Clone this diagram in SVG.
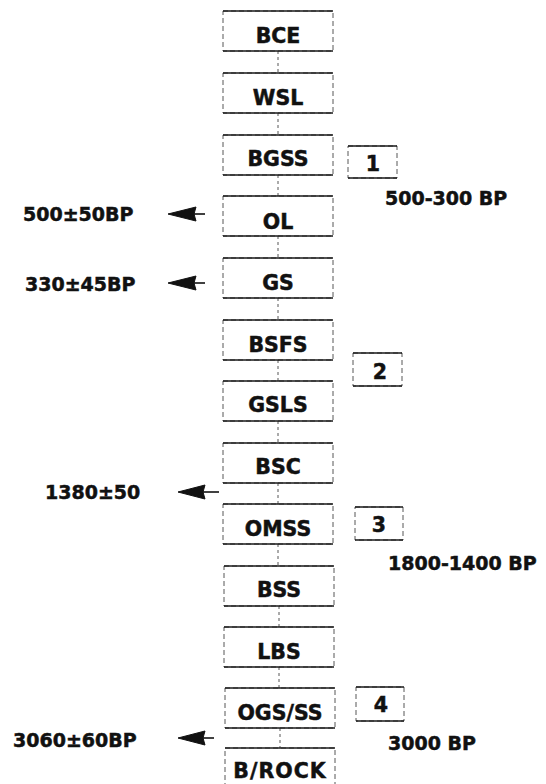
<svg xmlns="http://www.w3.org/2000/svg" width="546" height="784" viewBox="0 0 546 784">
<style>
.box{fill:#fff;stroke:#444;stroke-width:0.9;stroke-dasharray:5 3}
.hb{stroke:#1a1a1a;stroke-width:1.5;fill:none}
.t{font-family:"DejaVu Sans","Liberation Sans",sans-serif;font-weight:bold;font-size:20.5px;fill:#111;stroke:#111;stroke-width:0.5;text-anchor:middle}
.l{font-family:"DejaVu Sans","Liberation Sans",sans-serif;font-weight:bold;font-size:19px;fill:#111;stroke:#111;stroke-width:0.5}
.c{stroke:#444;stroke-width:0.9;stroke-dasharray:3 3;fill:none}
.a{stroke:#111;stroke-width:1.6;fill:none}
.ah{fill:#111;stroke:#111;stroke-width:1}
</style>
<g id="connectors">
<line class="c" x1="278" y1="51" x2="278" y2="73"/>
<line class="c" x1="278" y1="113" x2="278" y2="135"/>
<line class="c" x1="278" y1="175" x2="278" y2="196"/>
<line class="c" x1="278" y1="236" x2="278" y2="258"/>
<line class="c" x1="278" y1="298" x2="278" y2="320"/>
<line class="c" x1="278" y1="360" x2="278" y2="381"/>
<line class="c" x1="278" y1="421" x2="278" y2="443"/>
<line class="c" x1="278" y1="483" x2="278" y2="504"/>
<line class="c" x1="278" y1="544" x2="278" y2="566"/>
<line class="c" x1="279" y1="606" x2="279" y2="627"/>
<line class="c" x1="279" y1="667" x2="279" y2="688"/>
<line class="c" x1="280" y1="728" x2="280" y2="748"/>
<line class="a" x1="190" y1="214" x2="205" y2="214"/>
<polygon class="ah" points="168,214 196,207 194,214 196,221"/>
<line class="a" x1="190" y1="283" x2="205" y2="283"/>
<polygon class="ah" points="168,283 196,276 194,283 196,290"/>
<line class="a" x1="200" y1="492" x2="219" y2="492"/>
<polygon class="ah" points="178,492 205,485 203,492 205,499"/>
<line class="a" x1="200" y1="738" x2="214" y2="738"/>
<polygon class="ah" points="178,738 205,731 203,738 205,745"/>
</g>
<g id="BCE"><rect class="box" x="223" y="11" width="110" height="40"/><path class="hb" d="M223 11H333M223 51H333"/><text class="t" x="278" y="43">BCE</text></g>
<g id="WSL"><rect class="box" x="223" y="73" width="110" height="40"/><path class="hb" d="M223 73H333M223 113H333"/><text class="t" x="278" y="105">WSL</text></g>
<g id="BGSS"><rect class="box" x="223" y="135" width="110" height="40"/><path class="hb" d="M223 135H333M223 175H333"/><text class="t" x="278" y="166">BGSS</text></g>
<g id="OL"><rect class="box" x="223" y="196" width="110" height="40"/><path class="hb" d="M223 196H333M223 236H333"/><text class="t" x="278" y="229">OL</text></g>
<g id="GS"><rect class="box" x="223" y="258" width="110" height="40"/><path class="hb" d="M223 258H333M223 298H333"/><text class="t" x="278" y="290">GS</text></g>
<g id="BSFS"><rect class="box" x="223" y="320" width="110" height="40"/><path class="hb" d="M223 320H333M223 360H333"/><text class="t" x="278" y="352">BSFS</text></g>
<g id="GSLS"><rect class="box" x="223" y="381" width="110" height="40"/><path class="hb" d="M223 381H333M223 421H333"/><text class="t" x="278" y="412">GSLS</text></g>
<g id="BSC"><rect class="box" x="223" y="443" width="110" height="40"/><path class="hb" d="M223 443H333M223 483H333"/><text class="t" x="278" y="474">BSC</text></g>
<g id="OMSS"><rect class="box" x="223" y="504" width="110" height="40"/><path class="hb" d="M223 504H333M223 544H333"/><text class="t" x="278" y="536">OMSS</text></g>
<g id="BSS"><rect class="box" x="224" y="566" width="110" height="40"/><path class="hb" d="M224 566H334M224 606H334"/><text class="t" x="279" y="597">BSS</text></g>
<g id="LBS"><rect class="box" x="224" y="627" width="110" height="40"/><path class="hb" d="M224 627H334M224 667H334"/><text class="t" x="279" y="659">LBS</text></g>
<g id="OGS_SS"><rect class="box" x="225" y="688" width="110" height="40"/><path class="hb" d="M225 688H335M225 728H335"/><text class="t" x="280" y="720">OGS/SS</text></g>
<g id="B_ROCK"><rect class="box" x="225" y="748" width="110" height="42"/><path class="hb" d="M225 748H335"/><text class="t" x="280" y="778" letter-spacing="1">B/ROCK</text></g>
<g id="n1"><rect class="box" x="348" y="146" width="49" height="32"/><path class="hb" d="M348 146H397M348 178H397"/><text class="t" x="373" y="171" font-size="19">1</text></g>
<g id="n2"><rect class="box" x="353" y="353" width="49" height="33"/><path class="hb" d="M353 353H402M353 386H402"/><text class="t" x="380" y="379" font-size="19">2</text></g>
<g id="n3"><rect class="box" x="355" y="507" width="48" height="33"/><path class="hb" d="M355 507H403M355 540H403"/><text class="t" x="379" y="532" font-size="19">3</text></g>
<g id="n4"><rect class="box" x="356" y="687" width="48" height="34"/><path class="hb" d="M356 687H404M356 721H404"/><text class="t" x="381" y="712" font-size="19">4</text></g>
<g id="labels">
<text class="l" x="23" y="221">500±50BP</text>
<text class="l" x="25" y="291">330±45BP</text>
<text class="l" x="45" y="499">1380±50</text>
<text class="l" x="13" y="747">3060±60BP</text>
<text class="l" x="385" y="205">500-300 BP</text>
<text class="l" x="388" y="570">1800-1400 BP</text>
<text class="l" x="388" y="750">3000 BP</text>
</g>
</svg>
